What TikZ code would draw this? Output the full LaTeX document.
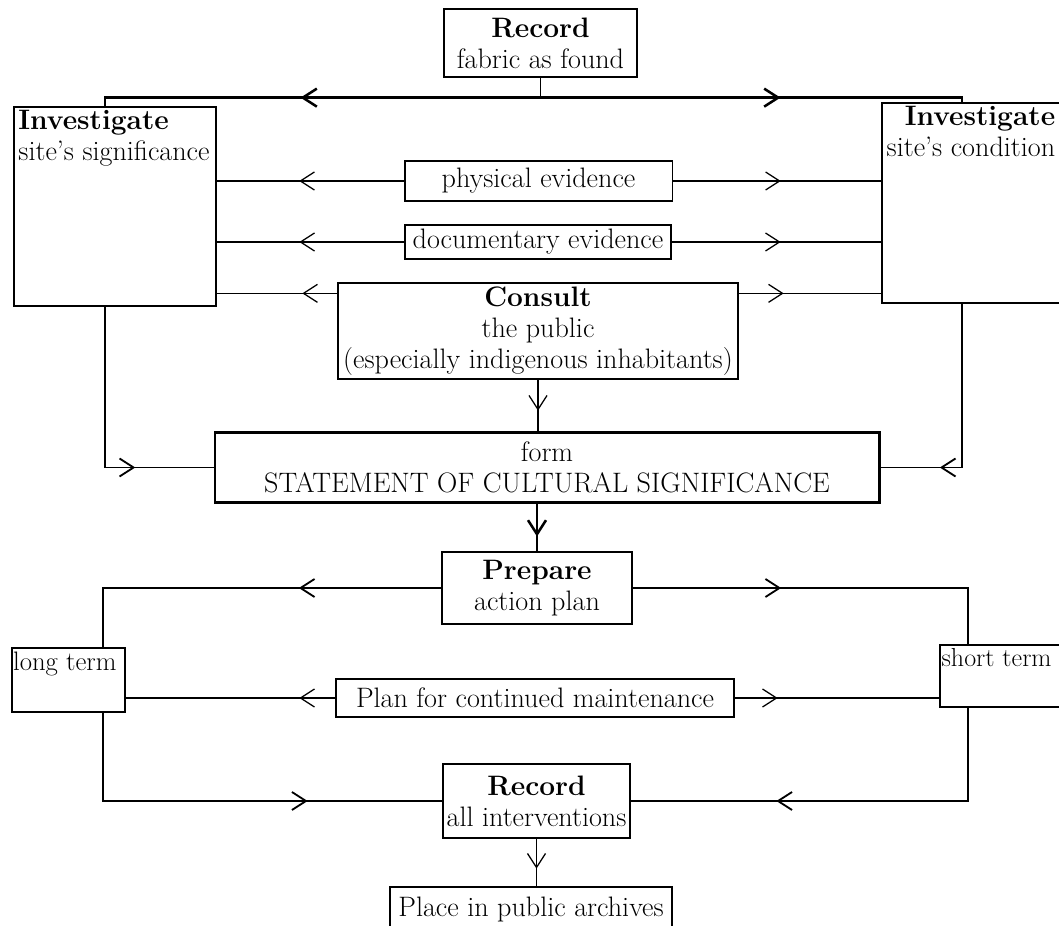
\documentclass[tikz,border=0pt]{standalone}
\usetikzlibrary{shapes,arrows.meta,positioning,calc,decorations.markings}

\begin{document}
\begin{tikzpicture}[x=0.025cm, y=-0.025cm,
    box/.style = {rectangle, draw=black, line width=0.9pt, inner sep=0pt, align=center, font=\fontsize{20}{22}\selectfont},
    mainbox/.style = {box, line width=2pt},
    boxtext/.style = {inner xsep=0.18cm, inner ysep=0.1cm, font=\fontsize{20}{22}\selectfont},
    thinline/.style = {draw=black, line width=0.9pt},
    thickline/.style = {draw=black, line width=1.3pt},
    heavy/.style = {draw=black, line width=1.8pt},
    arrowat/.style = {postaction={decorate, decoration={markings, mark=at position #1*0.025cm with {\arrow{Straight Barb[length=0.35cm, width=0.45cm]}}}}}
]
\useasboundingbox (0,0) rectangle (1059,926);

% Nodes
\node (rec) [box, minimum width=4.83cm, minimum height=1.7cm] at (540.5,43) {\textbf{Record}\\fabric as found};
\node (invsig) [box, minimum width=5.05cm, minimum height=4.98cm,
    label={[boxtext, align=left, anchor=north west, inner xsep=0.12cm]north west:{\textbf{Investigate}\\site's significance}}] at (115,206.5) {};
\node (invcon) [box, minimum width=4.55cm, minimum height=5cm,
    label={[boxtext, align=right, anchor=north east, xshift=-0.05cm]north east:{\textbf{Investigate}\\site's condition}}] at (973,203) {};
\node (phys) [box, minimum width=6.68cm, minimum height=1cm] at (538.5,181) {physical evidence};
\node (doc) [box, minimum width=6.65cm, minimum height=0.85cm] at (538,242) {documentary evidence};
\node (consult) [box, minimum width=10cm, minimum height=2.4cm] at (538,331) {\textbf{Consult}\\the public\\(especially indigenous inhabitants)};
\node (stmt) [mainbox, minimum width=16.6cm, minimum height=1.73cm] at (547,467.5) {form\\STATEMENT OF CULTURAL SIGNIFICANCE};
\node (prep) [box, line width=1.6pt, minimum width=4.75cm, minimum height=1.8cm] at (537,588) {\textbf{Prepare}\\action plan};
\node (longt) [box, minimum width=2.83cm, minimum height=1.6cm,
    label={[boxtext, anchor=north west, inner xsep=0.04cm, font=\fontsize{19}{22}\selectfont]north west:long term}] at (68.5,680) {};
\node (shortt) [box, minimum width=3.1cm, minimum height=1.55cm,
    label={[boxtext, anchor=north west, inner xsep=0.05cm, font=\fontsize{18.5}{22}\selectfont]north west:short term}] at (1002,676) {};
\node (plan) [box, minimum width=9.95cm, minimum height=0.95cm] at (535,698) {Plan for continued maintenance};
\node (recint) [box, minimum width=4.68cm, minimum height=1.85cm] at (536.5,801) {\textbf{Record}\\all interventions};
\node (place) [box, minimum width=7.05cm, minimum height=1.1cm] at (531,909) {Place in public archives};

% Edges
\coordinate (top) at ($(rec.south)+(0,20)$);
\draw [thinline] (rec.south) -- (top);
\draw [heavy, arrowat=240] (top) -| ($(invsig.north)+(-10,0)$);
\draw [heavy, arrowat=240] (top) -| ($(invcon.north)+(-11,0)$);

\draw [thinline, arrowat=105] (phys.west) -- (phys.west -| invsig.east);
\draw [thinline, arrowat=108] (phys.east) -- (phys.east -| invcon.west);
\draw [thinline, arrowat=105] (doc.west) -- (doc.west -| invsig.east);
\draw [thinline, arrowat=109] (doc.east) -- (doc.east -| invcon.west);
\draw [thinline, arrowat=35] ($(consult.north west)+(0,11)$) coordinate (cl) -- (cl -| invsig.east);
\draw [thinline, arrowat=45] ($(consult.north east)+(0,11)$) coordinate (cr) -- (cr -| invcon.west);

\draw [thinline, arrowat=31] (consult.south) -- (consult.south |- stmt.north);
\draw [thickline, arrowat=191] ($(invsig.south)+(-10,0)$) |- (stmt.west);
\draw [thickline, arrowat=186] ($(invcon.south)+(-11,0)$) |- (stmt.east);

\draw [heavy, arrowat=33] (stmt.south -| prep.north) -- (prep.north);
\draw [thickline, arrowat=142] (prep.west) -| ($(longt.north)+(34.5,0)$);
\draw [thickline, arrowat=148] (prep.east) -| ($(shortt.north)+(-34,0)$);

\draw [thinline, arrowat=36] (plan.west) -- (plan.west -| longt.east);
\draw [thinline, arrowat=43] (plan.east) -- (plan.east -| shortt.west);

\draw [thickline, arrowat=293] ($(longt.south)+(34.5,0)$) |- (recint.west);
\draw [thickline, arrowat=285] ($(shortt.south)+(-34,0)$) |- (recint.east);
\draw [thinline, arrowat=30] (recint.south) -- (recint.south |- place.north);

\end{tikzpicture}
\end{document}
